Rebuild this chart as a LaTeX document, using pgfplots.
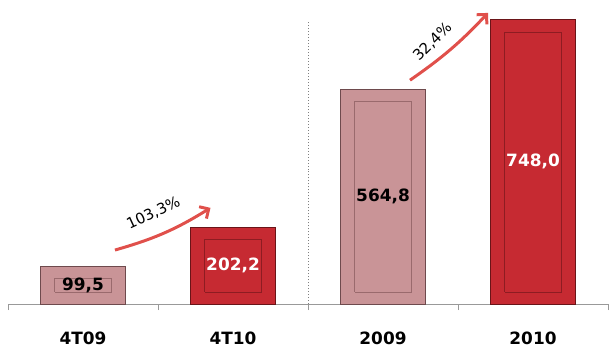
\documentclass[border=0pt]{standalone}
\usepackage{pgfplots}
\pgfplotsset{compat=1.18}
\usetikzlibrary{arrows.meta}
\usepackage{fontspec}
\setmainfont{DejaVu Sans}
\definecolor{pinkfill}{HTML}{C99497}
\definecolor{pinkedge}{HTML}{6E4A4D}
\definecolor{pinkin}{HTML}{9A6A6D}
\definecolor{redfill}{HTML}{C62A32}
\definecolor{rededge}{HTML}{6A1418}
\definecolor{redin}{HTML}{8E1C22}
\definecolor{arrowred}{HTML}{E0504B}
\begin{document}
\begin{tikzpicture}
\useasboundingbox (-8bp,-45bp) rectangle (601bp,304bp);
\begin{axis}[
  scale only axis, width=600bp, height=304bp,
  xmin=-0.5, xmax=3.5, ymin=0, ymax=800,
  axis x line=bottom, axis y line=none,
  axis line style={-, draw=gray!80, line width=1pt},
  xtick={-0.5,0.5,1.5,2.5,3.5}, xticklabels={},
  tick align=outside, major tick length=6bp,
  x tick style={draw=gray!80, line width=1pt},
  extra x ticks={0,1,2,3}, extra x tick labels={4T09,4T10,2009,2010},
  extra x tick style={major tick length=0pt, x tick style={draw=none},
    xticklabel style={font=\fontsize{17}{19}\selectfont\bfseries, anchor=base, yshift=-40bp}},
  clip=false,
]
\addplot[ybar, bar width=85bp, bar shift=0pt, fill=pinkfill, draw=pinkedge, line width=1pt]
  coordinates {(0,99.5) (2,564.8)};
\addplot[ybar, bar width=85bp, bar shift=0pt, fill=redfill, draw=rededge, line width=1pt]
  coordinates {(1,202.2) (3,748.0)};
% inner bevel frames
\addplot[pinkin, line width=0.6pt, sharp plot] coordinates {(-0.19,32) (-0.19,67.5) (0.19,67.5) (0.19,32) (-0.19,32)};
\addplot[pinkin, line width=0.6pt, sharp plot] coordinates {(1.81,32) (1.81,532.8) (2.19,532.8) (2.19,32) (1.81,32)};
\addplot[redin, line width=0.6pt, sharp plot] coordinates {(0.81,32) (0.81,170.2) (1.19,170.2) (1.19,32) (0.81,32)};
\addplot[redin, line width=0.6pt, sharp plot] coordinates {(2.81,32) (2.81,716.0) (3.19,716.0) (3.19,32) (2.81,32)};
% value labels
\node[font=\fontsize{17}{19}\selectfont\bfseries, text=black] at (axis cs:0,49.75) {99,5};
\node[font=\fontsize{17}{19}\selectfont\bfseries, text=white] at (axis cs:1,101.1) {202,2};
\node[font=\fontsize{17}{19}\selectfont\bfseries, text=black] at (axis cs:2,282.4) {564,8};
\node[font=\fontsize{17}{19}\selectfont\bfseries, text=white] at (axis cs:3,374.0) {748,0};
% separator
\draw[gray, dotted, line width=1pt] (axis cs:1.5,0) -- (axis cs:1.5,742);
% growth arrows
\draw[arrowred, line width=3pt, -{Straight Barb[length=7pt,width=14pt]}] (axis cs:0.213,142) to[bend right=8] (axis cs:0.85,253);
\node[font=\fontsize{15}{17}\selectfont, rotate=25] at (axis cs:0.47,238) {103,3\%};
\draw[arrowred, line width=3pt, -{Straight Barb[length=7pt,width=14pt]}] (axis cs:2.18,589) to[bend right=6] (axis cs:2.70,766);
\node[font=\fontsize{15}{17}\selectfont, rotate=45] at (axis cs:2.33,690) {32,4\%};
\end{axis}
\end{tikzpicture}
\end{document}
